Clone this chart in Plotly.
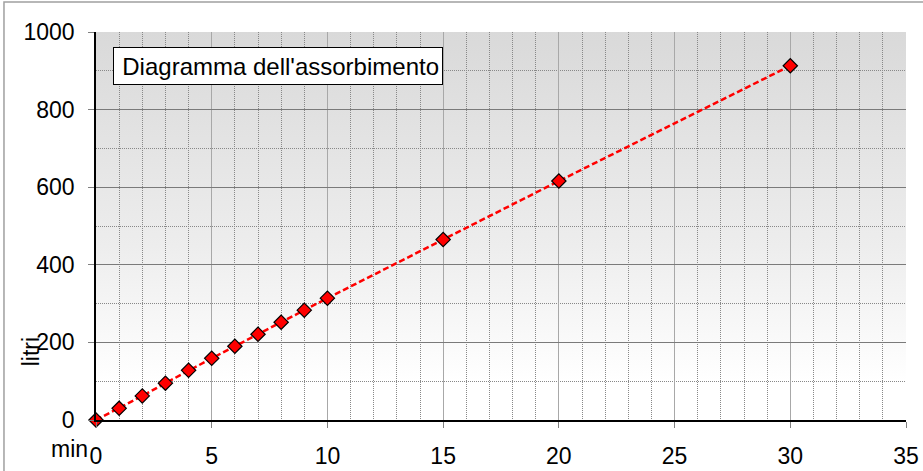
import base64
import plotly.graph_objects as go

# Absorption measurements: elapsed minutes vs litres absorbed
minutes = [0, 1, 2, 3, 4, 5, 6, 7, 8, 9, 10, 15, 20, 30]
litres = [0, 30, 62, 95, 128, 159, 190, 221, 252, 283, 314, 465, 616, 913]

x_ticks = [0, 5, 10, 15, 20, 25, 30, 35]
y_ticks = [0, 200, 400, 600, 800, 1000]

FONT = "Liberation Sans, Arial, sans-serif"
FS = 23

# vertical grey-to-white gradient used as the plot-area background
grad_svg = (
    '<svg xmlns="http://www.w3.org/2000/svg" width="100" height="100" preserveAspectRatio="none">'
    '<defs><linearGradient id="g" x1="0" y1="0" x2="0" y2="1">'
    '<stop offset="0" stop-color="#d9d9d9"/>'
    '<stop offset="0.55" stop-color="#ededed"/>'
    '<stop offset="0.9" stop-color="#ffffff"/>'
    '<stop offset="1" stop-color="#ffffff"/>'
    '</linearGradient></defs>'
    '<rect width="100" height="100" fill="url(#g)"/></svg>'
)
grad_uri = "data:image/svg+xml;base64," + base64.b64encode(grad_svg.encode()).decode()

fig = go.Figure()
fig.add_trace(go.Scatter(
    x=minutes, y=litres,
    mode="lines+markers",
    line=dict(color="#ff0000", width=2.5, dash="6px,3px"),
    marker=dict(symbol="diamond", size=11, color="#ff0000",
                line=dict(color="#000000", width=1.2)),
    cliponaxis=False,
    showlegend=False,
))

fig.update_layout(
    width=923, height=471,
    margin=dict(l=96, r=17, t=32, b=51),
    paper_bgcolor="white",
    plot_bgcolor="white",
    font=dict(family=FONT, size=FS, color="black"),
    images=[dict(source=grad_uri, xref="x", yref="y", x=0, y=1000,
                 sizex=35, sizey=1000, sizing="stretch", layer="below")],
    shapes=[
        # outer frame of the chart
        dict(type="rect", xref="paper", yref="paper",
             x0=-0.1136, y0=-0.2, x1=1.05, y1=1.0771,
             line=dict(color="#a0a0a0", width=1.5), fillcolor="rgba(0,0,0,0)",
             layer="below"),
    ],
    annotations=[
        dict(text="Diagramma dell'assorbimento", xref="x", yref="y",
             x=0.735, y=912, xanchor="left", yanchor="middle", showarrow=False,
             font=dict(size=24, family=FONT), bgcolor="white",
             bordercolor="black", borderwidth=1, borderpad=3,
             width=322, height=30, align="right"),
        dict(text="min", xref="paper", yref="paper", x=-0.007, y=-0.075,
             xanchor="right", yanchor="middle", showarrow=False,
             font=dict(size=FS, family=FONT)),
        dict(text="litri", xref="paper", yref="paper", x=-0.08, y=0.175,
             xanchor="center", yanchor="middle", textangle=-90, showarrow=False,
             font=dict(size=FS, family=FONT)),
    ],
)

fig.update_xaxes(
    range=[0, 35], tickvals=x_ticks, ticktext=[str(v) for v in x_ticks],
    ticks="outside", ticklen=6, tickcolor="#808080", ticklabelstandoff=9,
    showline=True, linecolor="black", linewidth=1.5,
    showgrid=True, gridcolor="#a8a8a8", gridwidth=1,
    minor=dict(dtick=1, showgrid=True, gridcolor="#888888", griddash="1px,1px", gridwidth=1),
    zeroline=False, fixedrange=True, automargin=False,
)
fig.update_yaxes(
    range=[0, 1000], tickvals=y_ticks, ticktext=[str(v) for v in y_ticks],
    ticks="outside", ticklen=6, tickcolor="#808080", ticklabelstandoff=9,
    showline=True, linecolor="black", linewidth=1.5,
    showgrid=True, gridcolor="#7a7a7a", gridwidth=1,
    minor=dict(dtick=100, showgrid=True, gridcolor="#888888", griddash="1px,1px", gridwidth=1),
    zeroline=False, fixedrange=True, automargin=False,
)

fig.write_html("out.html")
